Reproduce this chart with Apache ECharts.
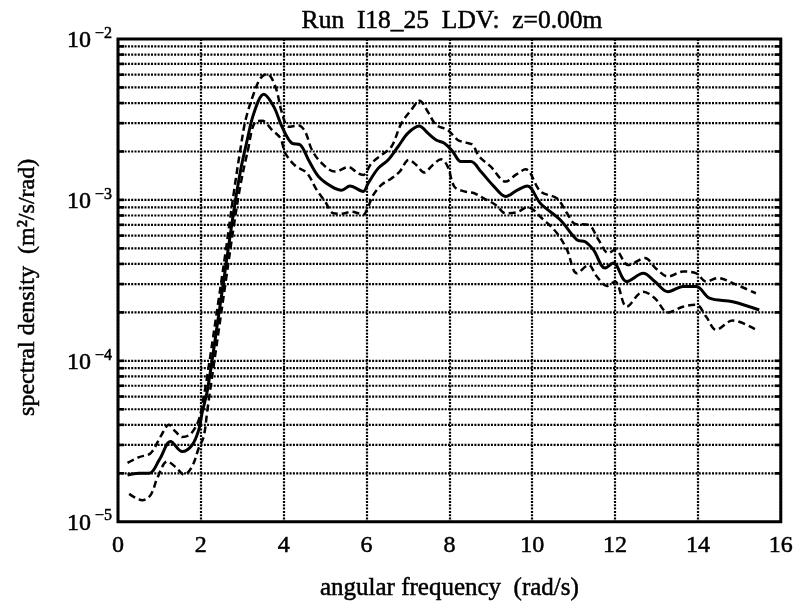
<!DOCTYPE html>
<html>
<head>
<meta charset="utf-8">
<title>Run I18_25 LDV spectral density</title>
<script src="https://cdn.jsdelivr.net/npm/echarts@6/dist/echarts.min.js"></script>
<style>
  html, body { margin: 0; padding: 0; background: #fff; }
  #chart { width: 796px; height: 606px; }
</style>
</head>
<body>
<div id="chart"></div>
<script>
// Mean spectrum (solid)
const freqMean = [0.23,0.5,0.75,1.0,1.27,1.55,1.79,1.95,2.03,2.16,
  2.44,2.6,2.8,2.96,3.12,3.28,3.52,3.76,3.96,4.2,
  4.4,4.6,4.84,5.16,5.4,5.6,5.92,6.04,6.28,6.52,
  6.76,7.0,7.27,7.48,7.68,7.88,8.08,8.28,8.52,8.76,
  9.08,9.36,9.64,9.88,10.2,10.68,11.08,11.28,11.48,11.76,
  11.96,12.28,12.68,12.96,13.28,13.64,13.96,14.28,14.84,15.48];
const specMean = [1.95e-5,2.0e-5,2.0e-5,2.43e-5,3.15e-5,2.73e-5,3.0e-5,3.72e-5,4.75e-5,6.6e-5,
  2.0e-4,3.85e-4,8.7e-4,1.53e-3,2.36e-3,3.46e-3,4.53e-3,3.8e-3,2.85e-3,2.25e-3,
  2.2e-3,1.77e-3,1.4e-3,1.21e-3,1.15e-3,1.22e-3,1.13e-3,1.27e-3,1.57e-3,1.77e-3,
  2.14e-3,2.6e-3,2.88e-3,2.6e-3,2.36e-3,2.25e-3,2.0e-3,1.73e-3,1.73e-3,1.5e-3,
  1.21e-3,1.05e-3,1.15e-3,1.22e-3,9.5e-4,7.5e-4,5.65e-4,5.5e-4,4.89e-4,3.77e-4,
  4.05e-4,3.11e-4,3.5e-4,3.11e-4,2.69e-4,2.9e-4,2.9e-4,2.45e-4,2.33e-4,2.07e-4];

// Upper confidence bound (dashed)
const freqUpper = [0.23,0.51,0.79,1.03,1.23,1.39,1.55,1.75,1.95,2.07,
  2.16,2.44,2.6,2.8,2.96,3.08,3.28,3.44,3.6,3.8,
  3.96,4.12,4.36,4.52,4.68,4.92,5.24,5.56,5.8,5.92,
  6.12,6.36,6.6,6.84,7.08,7.28,7.48,7.68,7.96,8.2,
  8.4,8.56,8.72,9.0,9.36,9.6,9.84,10.2,10.6,10.84,
  11.04,11.36,11.6,11.84,12.0,12.32,12.72,13.0,13.28,13.64,
  13.96,14.2,14.48,14.84,15.4];
const specUpper = [2.32e-5,2.52e-5,2.67e-5,3.39e-5,4.0e-5,3.63e-5,3.36e-5,3.5e-5,4.3e-5,6.0e-5,
  8.2e-5,2.5e-4,4.8e-4,1.13e-3,2.1e-3,3.14e-3,4.6e-3,5.7e-3,6.07e-3,5.06e-3,
  3.46e-3,2.85e-3,2.9e-3,2.65e-3,2.05e-3,1.69e-3,1.5e-3,1.6e-3,1.46e-3,1.43e-3,
  1.69e-3,1.9e-3,2.14e-3,2.99e-3,3.62e-3,4.14e-3,3.53e-3,2.92e-3,2.72e-3,2.36e-3,
  2.27e-3,2.2e-3,1.86e-3,1.61e-3,1.3e-3,1.43e-3,1.55e-3,1.13e-3,1.02e-3,8.26e-4,
  7.1e-4,7.0e-4,5.65e-4,4.67e-4,4.9e-4,3.94e-4,4.35e-4,3.72e-4,3.34e-4,3.59e-4,
  3.5e-4,3.11e-4,3.27e-4,3.04e-4,2.63e-4];

// Lower confidence bound (dashed)
const freqLower = [0.27,0.59,0.79,0.95,1.19,1.39,1.6,1.79,1.95,2.07,
  2.16,2.44,2.6,2.8,2.96,3.12,3.32,3.48,3.72,3.92,
  4.04,4.28,4.56,4.8,5.0,5.2,5.4,5.64,5.8,5.92,
  6.04,6.16,6.36,6.6,6.8,7.02,7.2,7.39,7.6,7.8,
  7.96,8.12,8.36,8.6,8.84,9.12,9.36,9.64,9.88,10.28,
  10.6,10.84,11.08,11.36,11.56,11.8,12.0,12.28,12.68,12.96,
  13.28,13.64,13.96,14.2,14.44,14.84,15.4];
const specLower = [1.49e-5,1.36e-5,1.47e-5,1.87e-5,2.37e-5,2.19e-5,1.96e-5,2.21e-5,2.87e-5,3.39e-5,
  5.0e-5,1.6e-4,3.1e-4,7.0e-4,1.25e-3,1.95e-3,3.06e-3,3.1e-3,2.72e-3,2.42e-3,
  1.95e-3,1.63e-3,1.47e-3,1.15e-3,9.77e-4,8.26e-4,8.2e-4,8.45e-4,8.26e-4,8.07e-4,
  9.08e-4,1.07e-3,1.24e-3,1.36e-3,1.5e-3,1.77e-3,1.65e-3,1.48e-3,1.65e-3,1.79e-3,
  1.61e-3,1.21e-3,1.13e-3,1.1e-3,1.02e-3,9.3e-4,8.26e-4,8.4e-4,9.0e-4,7.5e-4,
  6.21e-4,4.89e-4,3.5e-4,3.94e-4,3.34e-4,2.92e-4,3.11e-4,2.17e-4,2.69e-4,2.45e-4,
  2.0e-4,2.17e-4,2.23e-4,1.88e-4,1.56e-4,1.78e-4,1.56e-4];

// Axis ranges
const xRange = [0, 16];
const yRange = [1e-5, 1e-2];
const xTickStep = 2;
const decades = [1e-5, 1e-4, 1e-3];
const mantissas = [1, 2, 3, 4, 5, 6, 7, 8, 9];

const FONT = 'Liberation Serif';
const ink = { color: '#000', textBorderColor: '#000', textBorderWidth: 0.5 };
const zip = (xs, ys) => xs.map((x, i) => [x, ys[i]]);

// Horizontal log grid lines: every 1..9 x 10^n inside the range
const hGrid = [];
decades.forEach(d => mantissas.forEach(m => {
  const v = m * d;
  if (v > yRange[0] * 1.0001 && v < yRange[1] * 0.9999) hGrid.push([xRange[0], v]);
}));

const dotted = { type: [2, 1.3], width: 2.2, color: '#000' };

const chart = echarts.init(document.getElementById('chart'), null, { renderer: 'canvas' });
chart.setOption({
  backgroundColor: '#fff',
  animation: false,
  title: {
    text: 'Run  I18_25  LDV:  z=0.00m',
    left: 447, top: 3, textAlign: 'center',
    textStyle: Object.assign({ fontFamily: FONT, fontSize: 25.5, fontWeight: 'normal' }, ink)
  },
  grid: {
    left: 118, right: 11, top: 39, bottom: 84,
    show: true, borderColor: '#000', borderWidth: 3, backgroundColor: 'transparent'
  },
  xAxis: {
    type: 'value', min: xRange[0], max: xRange[1], interval: xTickStep,
    name: 'angular frequency  (rad/s)', nameLocation: 'middle', nameGap: 54,
    nameTextStyle: Object.assign({ fontFamily: FONT, fontSize: 25 }, ink),
    axisLine: { show: false }, axisTick: { show: false },
    axisLabel: Object.assign({ fontFamily: FONT, fontSize: 24, margin: 12 }, ink),
    splitLine: { show: true, lineStyle: dotted }
  },
  yAxis: {
    type: 'log', logBase: 10, min: yRange[0], max: yRange[1],
    name: 'spectral density  (m²/s/rad)', nameLocation: 'middle', nameGap: 78,
    nameTextStyle: Object.assign({ fontFamily: FONT, fontSize: 24, padding: [0, 14, 0, 0] }, ink),
    axisLine: { show: false }, axisTick: { show: false },
    splitLine: { show: false },
    axisLabel: {
      margin: 6,
      formatter: v => '{b|10}{s| −' + Math.round(-Math.log10(v)) + '}',
      rich: {
        b: Object.assign({ fontFamily: FONT, fontSize: 24, verticalAlign: 'bottom' }, ink),
        s: Object.assign({ fontFamily: FONT, fontSize: 16, verticalAlign: 'top', padding: [0, 0, 11, 0] }, ink)
      }
    }
  },
  series: [
    {
      // log-scale gridlines with short ticks at both frame edges
      type: 'custom', silent: true, z: 1,
      data: hGrid,
      renderItem: (params, api) => {
        const v = api.value(1);
        const a = api.coord([xRange[0], v]);
        const b = api.coord([xRange[1], v]);
        const tick = 6;
        return {
          type: 'group',
          children: [
            { type: 'line', shape: { x1: a[0], y1: a[1], x2: b[0], y2: b[1] }, style: { stroke: dotted.color, lineWidth: dotted.width, lineDash: dotted.type } },
            { type: 'line', shape: { x1: a[0], y1: a[1], x2: a[0] + tick, y2: a[1] }, style: { stroke: '#000', lineWidth: 2.6 } },
            { type: 'line', shape: { x1: b[0] - tick, y1: b[1], x2: b[0], y2: b[1] }, style: { stroke: '#000', lineWidth: 2.6 } }
          ]
        };
      }
    },
    {
      type: 'line', data: zip(freqUpper, specUpper), smooth: 0.35, symbol: 'none', z: 3,
      lineStyle: { color: '#000', width: 2.5, type: [7, 4] }
    },
    {
      type: 'line', data: zip(freqLower, specLower), smooth: 0.35, symbol: 'none', z: 3,
      lineStyle: { color: '#000', width: 2.5, type: [7, 4] }
    },
    {
      type: 'line', data: zip(freqMean, specMean), smooth: 0.35, symbol: 'none', z: 4,
      lineStyle: { color: '#000', width: 3, type: 'solid' }
    }
  ]
});
</script>
</body>
</html>
